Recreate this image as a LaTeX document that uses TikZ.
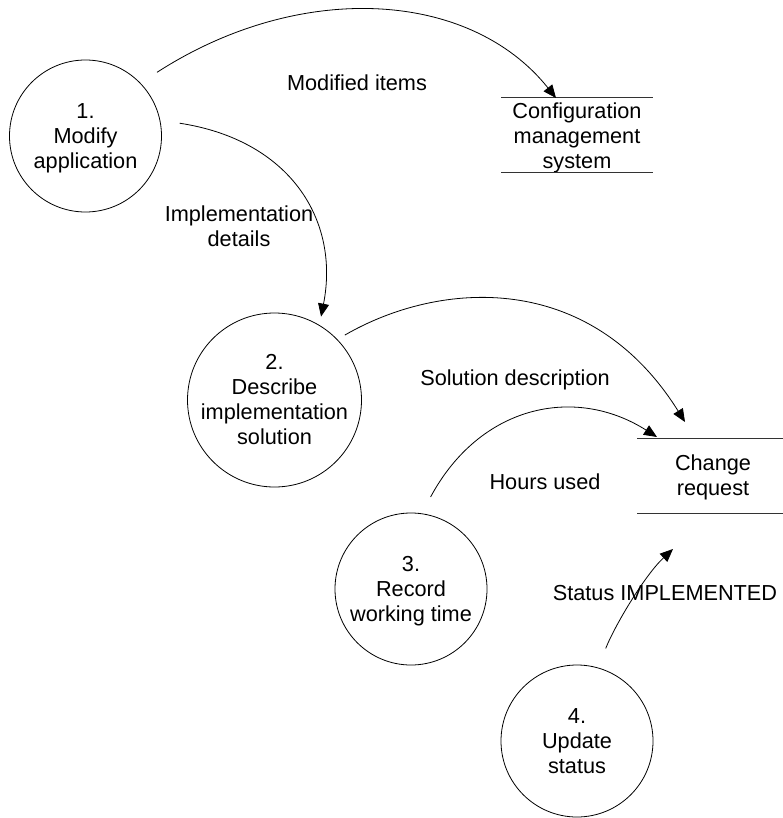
\documentclass[tikz,border=0pt]{standalone}
\usepackage{fontspec}
\setmainfont{Liberation Sans}
\usetikzlibrary{arrows.meta,calc}
% last line of a multi-line label without descender depth, so the lines sit centred
\newcommand{\nodepth}[1]{\raisebox{0pt}[\height][0pt]{#1}}
\begin{document}
\begin{tikzpicture}[x=1pt,y=-1pt,
  every node/.style={font=\fontsize{21.7}{25}\selectfont, align=center},
  proc/.style={circle, draw, line width=0.8pt, inner sep=0pt, outer sep=0pt},
  store/.style={rectangle, inner sep=0pt, outer sep=0pt, minimum width=152pt, minimum height=75pt},
  storeline/.style={line width=1pt, black!80},
  flow/.style={line width=0.8pt, -{Triangle[length=13pt,width=11pt]}},
  lbl/.style={inner sep=0pt}
]
\useasboundingbox (0,0) rectangle (782,818);

% processes
\node[proc, minimum size=152pt] (c1) at (85.5,136) {1.\\Modify\\\nodepth{application}};
\node[proc, minimum size=174pt] (c2) at (274.5,400) {2.\\Describe\\implementation\\solution};
\node[proc, minimum size=152pt] (c3) at (411,589) {3.\\Record\\\nodepth{working time}};
\node[proc, minimum size=152pt] (c4) at (577,741) {4.\\Update\\status};

% data stores
\node[store] (ds1) at (577,135.5) {Configuration\\management\\\nodepth{system}};
\draw[storeline] (ds1.north west) -- (ds1.north east);
\draw[storeline] (ds1.south west) -- (ds1.south east);
\node[store] (ds2) at (713,475.5) {Change\\\nodepth{request}};
\draw[storeline] (ds2.north west) -- (ds2.north east);
\draw[storeline] (ds2.south west) -- (ds2.south east);

% flow labels
\node[lbl] (l1) at (357,83) {Modified items};
\node[lbl] (l2) at (239,226) {Implementation\\details};
\node[lbl] (l3) at (515,380) {Solution description};
\node[lbl] (l4) at (545,482) {Hours used};
\node[lbl] (l5) at (665,593) {Status IMPLEMENTED};

% data flows
\draw[flow, shorten <=20pt] (c1.44) .. controls (300,-20) and (470,-10) .. ($(ds1.north)+(-21,0)$);
\draw[flow, shorten <=20pt, shorten >=9pt] (c1.12) .. controls (290,140) and (340,220) .. (c2.59);
\draw[flow, shorten <=9pt] (c2.44) .. controls (440,280) and (590,270) .. ($(ds2.north)+(-28,-16)$);
\draw[flow, shorten <=19pt] (c3.82) .. controls (480,405) and (575,385) .. ($(ds2.north)+(-56,-1)$);
\draw[flow, shorten <=21pt] (c4.74) .. controls (615,625) and (645,575) .. ($(ds2.south)+(-40,36)$);
\end{tikzpicture}
\end{document}
